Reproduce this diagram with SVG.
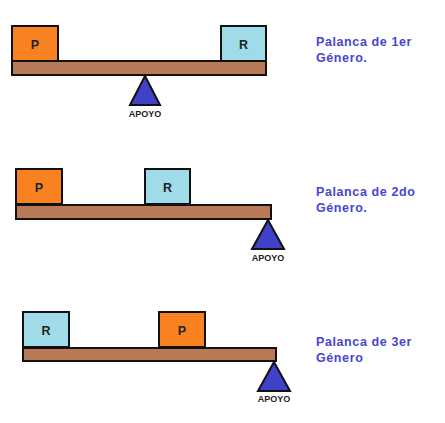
<svg xmlns="http://www.w3.org/2000/svg" width="445" height="423" viewBox="0 0 445 423">
<style>
.bg{fill:#ffffff}
.p{fill:#f98220;stroke:#111;stroke-width:2}
.r{fill:#9fdbe8;stroke:#111;stroke-width:2}
.beam{fill:#b87a56;stroke:#111;stroke-width:2}
.tri{fill:#4040c8;stroke:#111;stroke-width:2;stroke-linejoin:miter}
.bl{font-family:"Liberation Sans",Arial,sans-serif;font-weight:bold;font-size:12.5px;fill:#222;text-anchor:middle}
.ap{font-family:"Liberation Sans",Arial,sans-serif;font-weight:bold;font-size:9px;fill:#222;text-anchor:middle}
.lb{font-family:"Liberation Sans",Arial,sans-serif;font-weight:bold;font-size:12.5px;letter-spacing:0.6px;fill:#4646cf}
</style>
<rect class="bg" x="0" y="0" width="445" height="423"/>
<g id="lever1">
  <rect class="p" x="12" y="26" width="46" height="35"/>
  <text class="bl" x="35" y="48.5">P</text>
  <rect class="r" x="221" y="26" width="45" height="35"/>
  <text class="bl" x="243.5" y="48.5">R</text>
  <rect class="beam" x="12" y="61" width="254" height="14"/>
  <polygon class="tri" points="145,76 130,105 160,105"/>
  <text class="ap" x="145" y="117">APOYO</text>
  <text class="lb" x="316" y="46">Palanca de 1er</text>
  <text class="lb" x="316" y="62">Género.</text>
</g>
<g id="lever2">
  <rect class="p" x="16" y="169" width="46" height="35"/>
  <text class="bl" x="39" y="191.5">P</text>
  <rect class="r" x="145" y="169" width="45" height="35"/>
  <text class="bl" x="167.5" y="191.5">R</text>
  <rect class="beam" x="16" y="205" width="255" height="14"/>
  <polygon class="tri" points="268,220 252,249 284,249"/>
  <text class="ap" x="268" y="261">APOYO</text>
  <text class="lb" x="316" y="196">Palanca de 2do</text>
  <text class="lb" x="316" y="212">Género.</text>
</g>
<g id="lever3">
  <rect class="r" x="23" y="312" width="46" height="35"/>
  <text class="bl" x="46" y="334.5">R</text>
  <rect class="p" x="159" y="312" width="46" height="35"/>
  <text class="bl" x="182" y="334.5">P</text>
  <rect class="beam" x="23" y="348" width="253" height="13"/>
  <polygon class="tri" points="274,362 258,391 290,391"/>
  <text class="ap" x="274" y="402">APOYO</text>
  <text class="lb" x="316" y="346">Palanca de 3er</text>
  <text class="lb" x="316" y="362">Género</text>
</g>
<g id="connectors"></g>
</svg>
